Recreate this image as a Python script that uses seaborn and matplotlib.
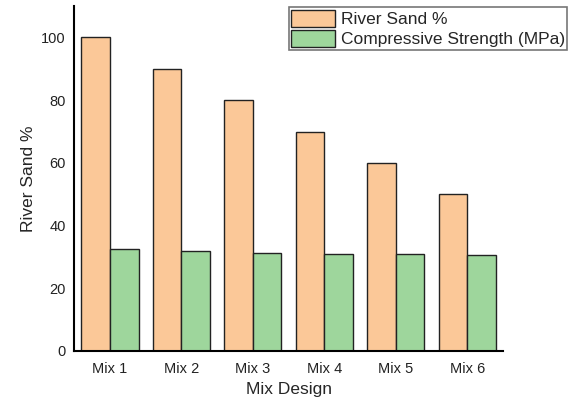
import numpy as np
import pandas as pd
import matplotlib.pyplot as plt
import seaborn as sns

mixes = ["Mix 1", "Mix 2", "Mix 3", "Mix 4", "Mix 5", "Mix 6"]
river_sand = [100, 90, 80, 70, 60, 50]
strength = [32.4, 31.8, 31.4, 31.0, 30.8, 30.5]
series = ["River Sand %", "Compressive Strength (MPa)"]
colors = ["#FBC898", "#9ED69C"]

df = pd.DataFrame({
    "Mix": mixes * 2,
    "Value": river_sand + strength,
    "Series": [series[0]] * len(mixes) + [series[1]] * len(mixes),
})

sns.set_style("white")
plt.rcParams['font.family'] = ['Liberation Sans', 'DejaVu Sans']

fig = plt.figure(figsize=(5.71, 4.09), dpi=100)
ax = fig.add_axes([0.13, 0.142, 0.751, 0.843])

sns.barplot(data=df, x="Mix", y="Value", hue="Series", palette=colors,
            saturation=1, width=0.8, edgecolor="#222222", linewidth=1.0, ax=ax)

ax.set_ylim(0, 110)
ax.set_yticks([0, 20, 40, 60, 80, 100])
ax.set_xlim(-0.5, 5.5)
ax.set_xlabel("Mix Design", fontsize=12.5)
ax.set_ylabel("River Sand %", fontsize=12.5)
ax.tick_params(axis="both", length=0, labelsize=10.5, colors="#222222")
ax.tick_params(axis="x", pad=8)
ax.tick_params(axis="y", pad=6)

for s in ["top", "right"]:
    ax.spines[s].set_visible(False)
for s in ["left", "bottom"]:
    ax.spines[s].set_color("black")
    ax.spines[s].set_linewidth(1.5)

leg = ax.legend(loc="upper right", bbox_to_anchor=(1.15, 0.997), fontsize=12.5,
                fancybox=False, frameon=True, edgecolor="#555555",
                handlelength=2.5, handleheight=1.15, handletextpad=0.35,
                borderpad=0.15, labelspacing=0.15, borderaxespad=0)
leg.get_frame().set_linewidth(1.2)

fig.savefig("out.png", dpi=100)
